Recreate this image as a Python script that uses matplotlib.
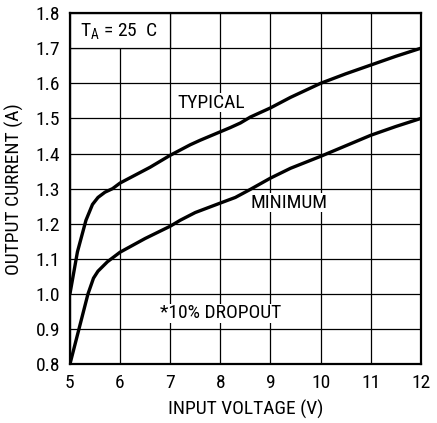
import matplotlib
matplotlib.use("Agg")
import matplotlib.pyplot as plt
from matplotlib.patches import Rectangle
from matplotlib import font_manager

# Data
typ_v = [5.0, 5.15, 5.32, 5.45, 5.56, 5.7, 5.85, 6.0, 6.6, 7.0, 7.2, 7.4, 7.6, 7.8, 8.0, 8.2, 8.4, 8.6, 9.0, 9.4, 10.0, 10.5, 11.0, 11.5, 12.0]
typ_i = [1.0, 1.12, 1.21, 1.255, 1.275, 1.29, 1.30, 1.316, 1.361, 1.395, 1.41, 1.425, 1.438, 1.45, 1.462, 1.474, 1.487, 1.504, 1.53, 1.56, 1.60, 1.627, 1.652, 1.677, 1.70]

min_v = [5.0, 5.18, 5.36, 5.47, 5.56, 5.75, 6.0, 6.5, 7.0, 7.2, 7.5, 8.0, 8.3, 8.6, 9.0, 9.4, 10.0, 10.5, 11.0, 11.5, 12.0]
min_i = [0.8, 0.9, 1.0, 1.045, 1.065, 1.092, 1.119, 1.158, 1.193, 1.21, 1.232, 1.259, 1.275, 1.298, 1.33, 1.358, 1.392, 1.422, 1.452, 1.477, 1.50]

x_ticks = [5, 6, 7, 8, 9, 10, 11, 12]
y_ticks = [0.8, 0.9, 1.0, 1.1, 1.2, 1.3, 1.4, 1.5, 1.6, 1.7, 1.8]

avail = {f.name for f in font_manager.fontManager.ttflist}
fam = [f for f in ["Liberation Sans Narrow", "Roboto Condensed", "Liberation Sans", "DejaVu Sans"] if f in avail]
plt.rcParams['font.family'] = fam

fig = plt.figure(figsize=(4.37, 4.23), dpi=100)
ax = fig.add_axes([0.160, 0.139, 0.803, 0.830])

ax.set_xlim(5, 12)
ax.set_ylim(0.8, 1.8)
ax.set_xticks(x_ticks)
ax.set_yticks(y_ticks)
ax.set_xticklabels([str(v) for v in x_ticks])
ax.set_yticklabels([f"{v:.1f}" for v in y_ticks])
ax.tick_params(length=0, labelsize=14, colors='black')
ax.tick_params(axis='x', pad=7)
ax.tick_params(axis='y', pad=7)
ax.grid(True, color='black', linewidth=0.9)
ax.set_axisbelow(True)
for s in ax.spines.values():
    s.set_linewidth(1.6)

ax.plot(typ_v, typ_i, color='black', linewidth=2.4, solid_capstyle='round', solid_joinstyle='round', zorder=3)
ax.plot(min_v, min_i, color='black', linewidth=2.4, solid_capstyle='round', solid_joinstyle='round', zorder=3)

ax.add_patch(Rectangle((5, 1.7), 2, 0.1, facecolor='white', edgecolor='black', linewidth=0.9, zorder=2))
ax.text(5.2, 1.748, r"T$_\mathregular{A}$ = 25  C", fontsize=14, va='center', ha='left', zorder=4)

bb = dict(facecolor='white', edgecolor='none', pad=0.5)
ax.text(7.82, 1.545, "TYPICAL", fontsize=14, ha='center', va='center', zorder=4, bbox=bb)
ax.text(9.37, 1.26, "MINIMUM", fontsize=14, ha='center', va='center', zorder=4, bbox=bb)
ax.text(8.01, 0.945, "*10% DROPOUT", fontsize=14, ha='center', va='center', zorder=4, bbox=bb)

ax.set_xlabel("INPUT VOLTAGE (V)", fontsize=14, labelpad=6)
ax.set_ylabel("OUTPUT CURRENT (A)", fontsize=14, labelpad=8)

fig.savefig("out.png", dpi=100)
